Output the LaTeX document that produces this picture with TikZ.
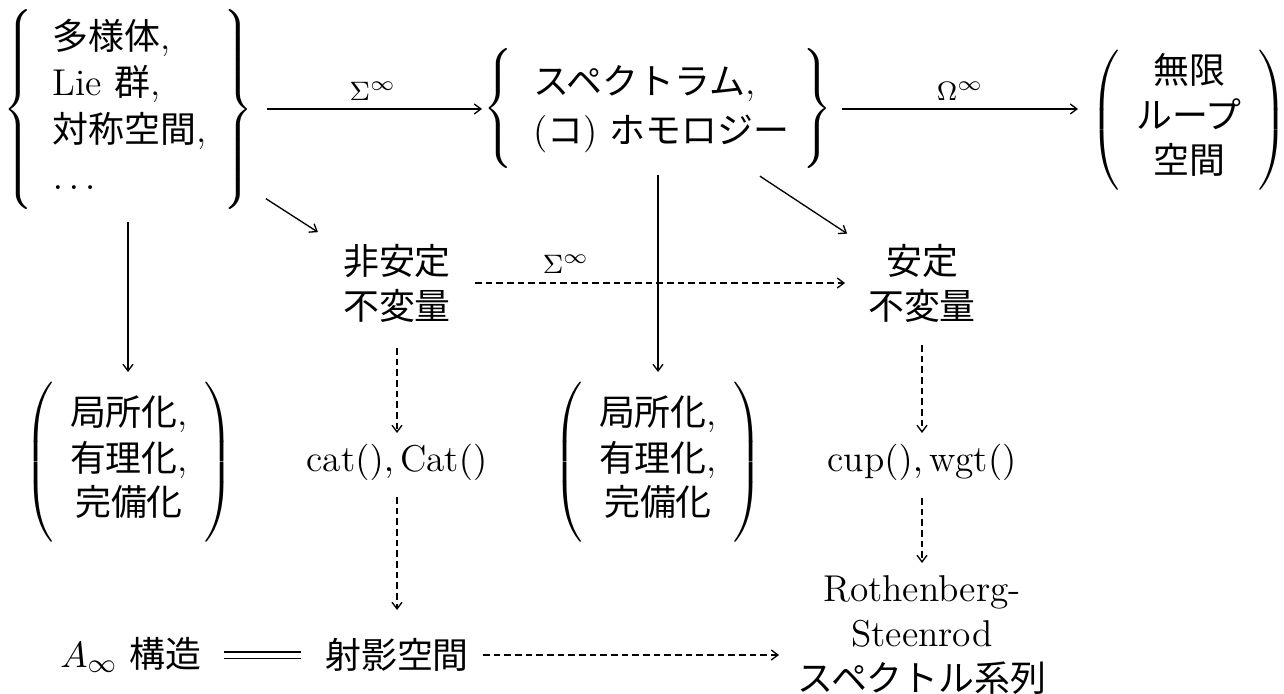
\documentclass[tikz,border=0pt]{standalone}
\usepackage{fontspec}
\newfontfamily\cjk{Noto Sans CJK JP}[Scale=0.962]
\usetikzlibrary{arrows.meta,calc}
\newcommand\delimbox[5]{$\delimiterfactor=1000\delimitershortfall=0pt\left#1\vcenter{\hbox{\rule{0pt}{#2}}}\begin{tabular}{#3}#4\end{tabular}\right#5$}
\begin{document}
\begin{tikzpicture}[x=0.3pt,y=-0.3pt,
  every node/.style={font=\fontsize{11.2}{13.5}\selectfont, inner sep=0pt},
  ar/.style={-{Straight Barb[length=2pt,width=3pt]}, line width=0.4pt},
  dar/.style={ar, dash pattern=on 2pt off 1.2pt},
  lbl/.style={font=\fontsize{11.2}{13.5}\selectfont}]
\useasboundingbox (0,0) rectangle (1284,694);
% nodes
\node (A) at (128,110) {\def\arraystretch{1.04}\delimbox{\{}{59pt}{@{\hspace{6pt}}l@{\hspace{5pt}}}{{\cjk 多様体}, \\ Lie {\cjk 群}, \\ {\cjk 対称空間}, \\ $\ldots$}{\}}};
\node (B) at (658,109) {\def\arraystretch{1.08}\delimbox{\{}{33.6pt}{@{\hspace{6pt}}l@{\hspace{4pt}}}{{\cjk スペクトラム}, \\ ({\cjk コ}) {\cjk ホモロジー}}{\}}};
\node (C) at (1189,120) {\delimbox{(}{41pt}{@{\hspace{5pt}}c@{\hspace{5pt}}}{{\cjk 無限} \\ {\cjk ループ} \\ {\cjk 空間}}{)}};
\node (D) at (397,283) [align=center] {{\cjk 非安定}\\{\cjk 不変量}};
\node (E) at (922,283) [align=center] {{\cjk 安定}\\{\cjk 不変量}};
\node (F) at (129,462) {\delimbox{(}{47pt}{@{\hspace{5pt}}c@{\hspace{5pt}}}{{\cjk 局所化}, \\ {\cjk 有理化}, \\ {\cjk 完備化}}{)}};
\node (G) at (397,462) {$\mathrm{cat}(),\mathrm{Cat}()$};
\node (H) at (658,462) {\delimbox{(}{47pt}{@{\hspace{5pt}}c@{\hspace{5pt}}}{{\cjk 局所化}, \\ {\cjk 有理化}, \\ {\cjk 完備化}}{)}};
\node (I) at (922,462) {$\mathrm{cup}(),\mathrm{wgt}()$};
\node (J) at (131,655) {$A_\infty$ {\cjk 構造}};
\node (K) at (397,655) {{\cjk 射影空間}};
\node (L) at (922,635) [align=center] {Rothenberg-\\Steenrod\\{\cjk スペクトル系列}};
% arrows
\draw[ar, shorten <=41.7pt, shorten >=52.8pt] (A.center |- B.center) -- node[lbl, pos=0.462, yshift=5.4pt] {$\scriptstyle\Sigma^\infty$} (B.center);
\draw[ar, shorten <=55.2pt, shorten >=33.3pt] (B.center) -- node[lbl, pos=0.569, yshift=5.4pt] {$\scriptstyle\Omega^\infty$} (B.center -| C.center);
\draw[ar, shorten <=49.2pt, shorten >=28.2pt] (A.center) -- (D.center);
\draw[ar, shorten <=36.6pt, shorten >=26.9pt] (B.center) -- (E.center);
\draw[ar, shorten <=33.6pt, shorten >=27pt] (A.center) -- (A.center |- F.center);
\draw[ar, shorten <=19.8pt, shorten >=27pt] (B.center) -- (H.center);
\draw[dar, shorten <=23.4pt, shorten >=23.1pt] (D.center) -- node[lbl, pos=0.322, yshift=5.7pt] {$\scriptstyle\Sigma^\infty$} (E.center);
\draw[dar, shorten <=19.5pt, shorten >=8.7pt] (D.center) -- (G.center);
\draw[dar, shorten <=10.5pt, shorten >=13.5pt] (G.center) -- (K.center);
\draw[dar, shorten <=18.6pt, shorten >=8.7pt] (E.center) -- (I.center);
\draw[dar, shorten <=10.8pt, shorten >=21.6pt] (I.center) -- (L.center);
\draw[dar, shorten <=25.8pt, shorten >=42.9pt] (K.center) -- (K.center -| L.center);
\draw[double, double distance=1.5pt, line width=0.4pt, shorten <=27.9pt, shorten >=28.8pt] (J.center) -- (K.center);
\end{tikzpicture}
\end{document}
